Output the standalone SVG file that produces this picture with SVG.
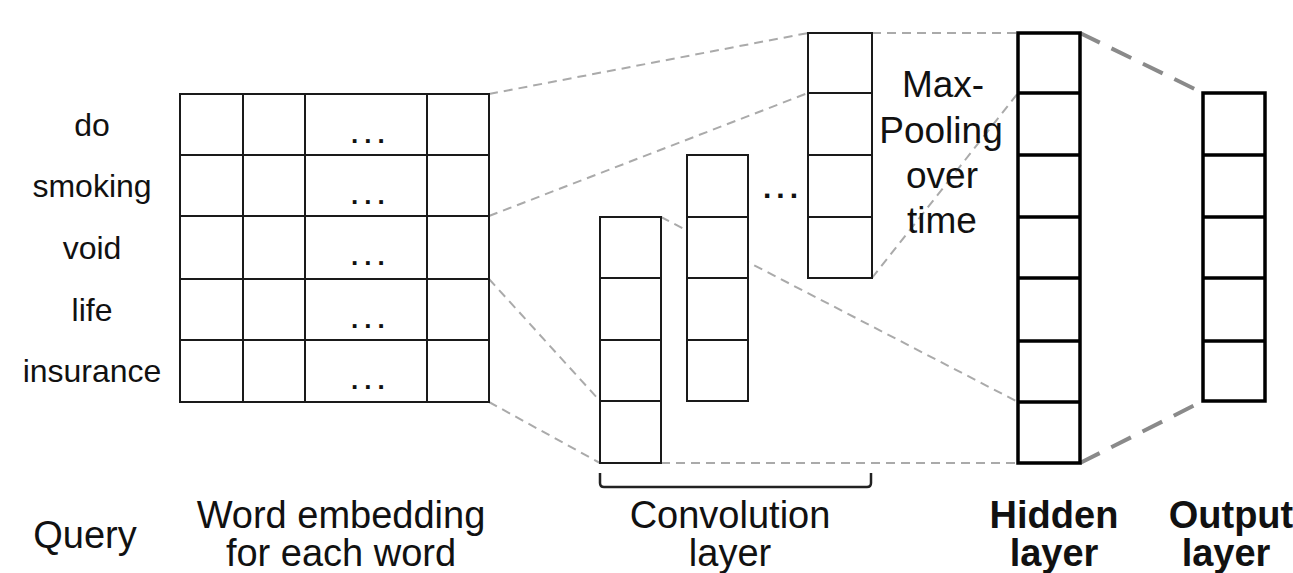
<svg xmlns="http://www.w3.org/2000/svg" width="1293" height="573" viewBox="0 0 1293 573">
<style>
.cell{fill:#fff;stroke:#1a1a1a;stroke-width:2}
.thin{stroke:#1a1a1a;stroke-width:2;fill:none}
.bold{fill:#fff;stroke:#000;stroke-width:3.5}
.boldl{stroke:#000;stroke-width:3.5;fill:none}
.dash{stroke:#aaa;stroke-width:2;stroke-dasharray:9 6;fill:none}
.dashb{stroke:#8a8a8a;stroke-width:4;stroke-dasharray:22 13;fill:none}
text{font-family:"Liberation Sans",Arial,sans-serif;fill:#111}
.w{font-size:32px;text-anchor:middle}
.lab{font-size:38px;text-anchor:middle}
.b{font-weight:bold}
.mp{font-size:37px;text-anchor:middle}
.dots{font-size:26px;letter-spacing:6px;font-weight:bold}
</style>
<g id="connectors">
<line class="dash" x1="489" y1="94" x2="808" y2="33"/>
<line class="dash" x1="489" y1="216" x2="808" y2="93"/>
<line class="dash" x1="489" y1="279" x2="600" y2="401"/>
<line class="dash" x1="489" y1="402" x2="600" y2="463"/>
<line class="dash" x1="661" y1="217" x2="1018" y2="402"/>
<line class="dash" x1="661" y1="463" x2="1018" y2="463"/>
<line class="dash" x1="872" y1="33" x2="1018" y2="33"/>
<line class="dash" x1="872" y1="278" x2="1018" y2="93"/>
<line class="dashb" x1="1080" y1="33" x2="1203" y2="93"/>
<line class="dashb" x1="1080" y1="463" x2="1203" y2="401"/>
</g>
<g id="query-words">
<text class="w" x="92" y="136">do</text>
<text class="w" x="92" y="197">smoking</text>
<text class="w" x="92" y="259">void</text>
<text class="w" x="92" y="321">life</text>
<text class="w" x="92" y="382">insurance</text>
</g>
<g id="word-embedding">
<rect class="cell" x="180" y="94" width="309" height="308"/>
<path class="thin" d="M180 155H489M180 216H489M180 279H489M180 340H489M243 94V402M305 94V402M427 94V402"/>
<text class="dots" x="351" y="143">...</text>
<text class="dots" x="351" y="204">...</text>
<text class="dots" x="351" y="265">...</text>
<text class="dots" x="351" y="328">...</text>
<text class="dots" x="351" y="389">...</text>
</g>
<g id="conv-col-1">
<rect class="cell" x="600" y="217" width="61" height="246"/>
<path class="thin" d="M600 278H661M600 340H661M600 401H661"/>
</g>
<g id="conv-col-2">
<rect class="cell" x="687" y="155" width="61" height="246"/>
<path class="thin" d="M687 217H748M687 278H748M687 340H748"/>
</g>
<g id="conv-ellipsis">
<text x="763" y="198" style="font-size:30px;font-weight:bold;letter-spacing:5px">...</text>
</g>
<g id="max-pooling">
<rect class="cell" x="808" y="33" width="64" height="245"/>
<path class="thin" d="M808 93H872M808 155H872M808 217H872"/>
</g>
<g id="max-pooling-label">
<text class="mp" x="943" y="97">Max-</text>
<text class="mp" x="941" y="143">Pooling</text>
<text class="mp" x="942" y="188">over</text>
<text class="mp" x="942" y="233">time</text>
</g>
<g id="hidden-layer">
<rect class="bold" x="1018" y="33" width="62" height="430"/>
<path class="boldl" d="M1018 93H1080M1018 155H1080M1018 217H1080M1018 278H1080M1018 341H1080M1018 402H1080"/>
</g>
<g id="output-layer">
<rect class="bold" x="1203" y="93" width="62" height="308"/>
<path class="boldl" d="M1203 155H1265M1203 217H1265M1203 278H1265M1203 341H1265"/>
</g>
<g id="conv-bracket">
<path d="M600 473V483Q600 487 604 487H867Q871 487 871 483V473" fill="none" stroke="#222" stroke-width="2.5"/>
</g>
<g id="labels">
<text class="lab" x="85" y="548">Query</text>
<text class="lab" x="341" y="528">Word embedding</text>
<text class="lab" x="341" y="566">for each word</text>
<text class="lab" x="730" y="528">Convolution</text>
<text class="lab" x="730" y="566">layer</text>
<text class="lab b" x="1054" y="528">Hidden</text>
<text class="lab b" x="1054" y="566">layer</text>
<text class="lab b" x="1231" y="528">Output</text>
<text class="lab b" x="1226" y="566">layer</text>
</g>
</svg>
